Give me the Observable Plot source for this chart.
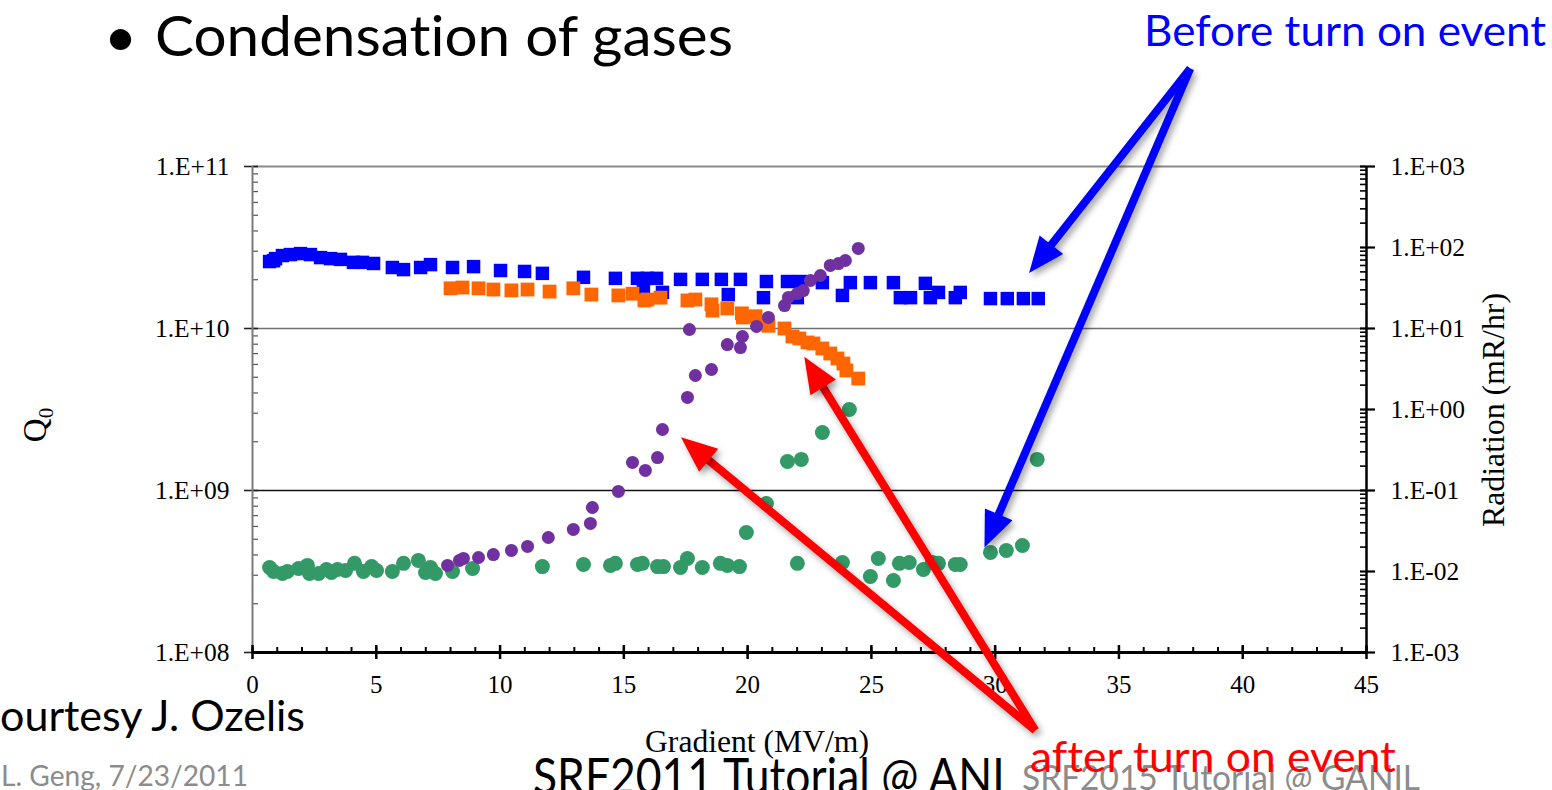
<!DOCTYPE html>
<html><head><meta charset="utf-8">
<script src="https://cdn.jsdelivr.net/npm/d3@7"></script>
<script src="https://cdn.jsdelivr.net/npm/@observablehq/plot@0.6"></script>
<style>
html,body{margin:0;padding:0;background:#fff;}
#page{position:relative;width:1552px;height:790px;overflow:hidden;background:#fff;}
#page svg{position:absolute;left:0;top:0;overflow:visible;}
#page text{font-variant-ligatures:none;font-feature-settings:"liga" 0,"clig" 0;}
g[aria-label="arrow"],g[aria-label="link"]{filter:drop-shadow(3px 4px 3px rgba(0,0,0,0.35));}
</style></head>
<body><div id="page"></div>
<script>
// ---------- data ----------
// Q0 before turn-on event (blue squares)
const beforeQ0Grad = [0.69,0.85,0.93,1.21,1.53,1.94,2.34,2.75,3.15,3.55,4.08,4.44,4.89,5.65,6.10,6.79,7.19,8.08,8.93,10.02,10.99,11.71,13.37,14.66,15.55,15.79,15.95,16.32,16.56,17.29,18.17,18.94,19.22,19.71,20.64,20.76,21.61,22.01,22.13,23.02,23.83,24.15,24.96,25.89,26.17,26.58,27.18,27.38,27.71,28.39,28.59,29.81,30.49,31.14,31.74];
const beforeQ0 = [2.59e10,2.62e10,2.70e10,2.82e10,2.86e10,2.90e10,2.86e10,2.74e10,2.70e10,2.67e10,2.56e10,2.56e10,2.52e10,2.38e10,2.31e10,2.38e10,2.48e10,2.38e10,2.41e10,2.28e10,2.25e10,2.19e10,2.07e10,2.04e10,2.04e10,1.77e10,2.04e10,2.04e10,1.67e10,2.01e10,2.01e10,2.01e10,1.62e10,2.01e10,1.55e10,1.95e10,1.95e10,1.55e10,1.95e10,1.92e10,1.60e10,1.92e10,1.92e10,1.92e10,1.55e10,1.55e10,1.90e10,1.55e10,1.67e10,1.55e10,1.67e10,1.53e10,1.53e10,1.53e10,1.53e10];
// Q0 after turn-on event (orange squares)
const afterQ0Grad = [8.00,8.48,9.13,9.73,10.46,11.11,12.00,12.96,13.69,14.78,15.35,15.83,15.95,16.48,17.57,17.89,18.54,18.58,19.18,19.77,19.81,20.32,20.84,21.49,21.81,22.09,22.42,22.66,23.02,23.34,23.63,23.87,23.99,24.47];
const afterQ0 = [1.77e10,1.79e10,1.77e10,1.74e10,1.72e10,1.74e10,1.69e10,1.77e10,1.62e10,1.60e10,1.64e10,1.49e10,1.51e10,1.55e10,1.49e10,1.51e10,1.41e10,1.29e10,1.33e10,1.24e10,1.17e10,1.19e10,1.04e10,1.00e10,8.93e9,8.68e9,8.20e9,8.08e9,7.53e9,7.01e9,6.53e9,6.08e9,5.51e9,4.91e9];
// Radiation before turn-on event (green circles)
const beforeRadGrad = [0.69,0.85,1.21,1.41,1.86,2.22,2.30,2.67,2.99,3.19,3.43,3.76,4.12,4.48,4.81,5.01,5.65,6.10,6.70,6.99,7.19,7.39,8.08,8.89,11.71,13.37,14.46,14.66,15.55,15.75,16.36,16.60,17.29,17.57,18.17,18.90,19.18,19.67,19.95,20.76,21.61,22.01,22.17,23.02,23.83,24.11,24.96,25.28,25.89,26.13,26.53,27.10,27.46,27.71,28.39,28.59,29.81,30.45,31.10,31.70];
const beforeRad = [0.0112,0.0100,0.00945,0.0100,0.0109,0.0119,0.00945,0.00945,0.0106,0.00973,0.0106,0.0103,0.0126,0.0100,0.0115,0.0103,0.0100,0.0126,0.0137,0.00973,0.0112,0.00945,0.0100,0.0109,0.0115,0.0122,0.0119,0.0126,0.0122,0.0126,0.0115,0.0115,0.0112,0.0145,0.0112,0.0126,0.0119,0.0115,0.0303,0.0691,0.228,0.0126,0.242,0.520,0.0129,1.00,0.00867,0.0145,0.00774,0.0126,0.0129,0.0106,0.0129,0.0126,0.0122,0.0122,0.0172,0.0182,0.0209,0.242];
// Radiation after turn-on event (purple circles)
const afterRadGrad = [7.88,8.36,8.52,9.13,9.73,10.46,11.11,11.95,12.96,13.65,13.73,14.78,15.35,15.87,16.36,16.56,17.57,17.65,17.89,18.54,19.18,19.71,19.79,20.36,20.84,21.49,21.65,22.01,22.25,22.54,22.94,23.34,23.67,23.95,24.47];
const afterRad = [0.0119,0.0137,0.0145,0.0149,0.0162,0.0182,0.0204,0.0263,0.0331,0.0392,0.0617,0.0973,0.222,0.177,0.255,0.566,1.41,9.72,2.63,3.12,6.34,5.82,7.96,10.6,13.7,19.2,24.2,27.0,29.4,39.2,45.1,60.0,63.4,69.1,97.3];

// axes
const xTicks = [0,5,10,15,20,25,30,35,40,45];
const xTickLabels = ["0","5","10","15","20","25","30","35","40","45"];
const xMinorTicks = d3.range(0, 46, 1);
const qTicks = [1e8,1e9,1e10,1e11];
const qTickLabels = ["1.E+08","1.E+09","1.E+10","1.E+11"];
const rTicks = [1e-3,1e-2,1e-1,1e0,1e1,1e2,1e3];
const rTickLabels = ["1.E-03","1.E-02","1.E-01","1.E+00","1.E+01","1.E+02","1.E+03"];
const minorOf = (decades) => decades.slice(0, -1).flatMap(d => d3.range(2, 10).map(k => d * k));
const qMinorTicks = minorOf(qTicks);
const rMinorTicks = minorOf(rTicks);

// annotation arrows (in gradient / radiation units); end = arrow tip
const arrowX1 = [37.88, 37.88, 31.62, 31.62];
const arrowY1 = [16200, 16200, 1.09e-4, 1.09e-4];
const arrowX2 = [31.42, 29.60, 17.37, 22.33];
const arrowY2 = [50.6, 0.0209, 0.438, 4.27];
const arrowColor = ["#0000ff", "#0000ff", "#ff0000", "#ff0000"];

// ---------- layout ----------
const W = 1552, H = 790;
const margins = {marginTop: 166, marginRight: 186, marginBottom: 138, marginLeft: 252};
const serif = "'Liberation Serif', 'Times New Roman', serif";
const xLabelMap = new Map(xTicks.map((d, i) => [d, xTickLabels[i]]));
const qLabelMap = new Map(qTicks.map((d, i) => [d, qTickLabels[i]]));
const rLabelMap = new Map(rTicks.map((d, i) => [d, rTickLabels[i]]));

const page = document.getElementById("page");

const plotQ = Plot.plot({
  width: W, height: H, ...margins,
  style: {background: "transparent", overflow: "visible", fontFamily: serif},
  x: {domain: [0, 45], label: null},
  y: {type: "log", domain: [1e8, 1e11], label: null},
  marks: [
    Plot.ruleY([1e11], {stroke: "#8a8a8a", strokeWidth: 2}),
    Plot.ruleY([1e10], {stroke: "#707070", strokeWidth: 1.6}),
    Plot.ruleY([1e9], {stroke: "#111", strokeWidth: 1.5}),
    Plot.axisY({ticks: qMinorTicks, tickSize: 6, dx: 6, fill: "none", stroke: "#555", strokeWidth: 1.2, label: null}),
    Plot.axisY({ticks: qTicks, tickSize: 14, dx: 6, fill: "none", stroke: "#222", strokeWidth: 1.6, label: null}),
    Plot.axisY({ticks: qTicks, tickSize: 0, tickPadding: 23, tickFormat: d => qLabelMap.get(d), fontSize: 25.5, fontFamily: serif, fill: "#000", label: null}),
    Plot.ruleX([0], {stroke: "#7a7a7a", strokeWidth: 2}),
    Plot.axisX({ticks: xMinorTicks, tickSize: 5, dy: -5, fill: "none", stroke: "#000", strokeWidth: 2, label: null}),
    Plot.axisX({ticks: xTicks, tickSize: 14, dy: -7, fill: "none", stroke: "#000", strokeWidth: 2.5, label: null}),
    Plot.axisX({ticks: xTicks, tickSize: 0, tickPadding: 23, tickFormat: d => xLabelMap.get(d), fontSize: 25, fontFamily: serif, fill: "#000", label: null}),
    Plot.ruleY([1e8], {stroke: "#000", strokeWidth: 3}),
    Plot.dot(beforeQ0, {x: beforeQ0Grad, y: d => d, symbol: "square", r: 7.6, fill: "#0000ff", stroke: "none"}),
    Plot.dot(afterQ0, {x: afterQ0Grad, y: d => d, symbol: "square", r: 7.8, fill: "#ff6600", stroke: "none"})
  ]
});

// filled triangular arrowhead marker, tip at the end of the link
function filledHead(color, context) {
  const ns = "http://www.w3.org/2000/svg";
  const doc = (context && context.document) || document;
  const m = doc.createElementNS(ns, "marker");
  m.setAttribute("viewBox", "-40 -20 44 40");
  m.setAttribute("markerUnits", "userSpaceOnUse");
  m.setAttribute("markerWidth", 44);
  m.setAttribute("markerHeight", 40);
  m.setAttribute("refX", 0);
  m.setAttribute("refY", 0);
  m.setAttribute("orient", "auto");
  m.setAttribute("overflow", "visible");
  const p = doc.createElementNS(ns, "path");
  p.setAttribute("d", "M2,0L-34,-15L-34,15Z");
  p.setAttribute("fill", color);
  p.setAttribute("stroke", "none");
  m.appendChild(p);
  return m;
}

function radiationPlot(arrowMarks) {
  return Plot.plot({
    width: W, height: H, ...margins,
    style: {background: "transparent", overflow: "visible", fontFamily: serif},
    x: {domain: [0, 45], axis: null, label: null},
    y: {type: "log", domain: [1e-3, 1e3], axis: null, label: null},
    marks: [
      Plot.ruleX([45], {stroke: "#000", strokeWidth: 2.5}),
      Plot.axisY({anchor: "right", ticks: rMinorTicks, tickSize: 7, dx: -7, fill: "none", stroke: "#000", strokeWidth: 1.6, label: null}),
      Plot.axisY({anchor: "right", ticks: rTicks, tickSize: 15, dx: -7, fill: "none", stroke: "#000", strokeWidth: 2.2, label: null}),
      Plot.axisY({anchor: "right", ticks: rTicks, tickSize: 0, tickPadding: 24, tickFormat: d => rLabelMap.get(d), fontSize: 25.5, fontFamily: serif, fill: "#000", label: null}),
      Plot.dot(beforeRad, {x: beforeRadGrad, y: d => d, r: 7.5, fill: "#339966", stroke: "none"}),
      Plot.dot(afterRad, {x: afterRadGrad, y: d => d, r: 6.5, fill: "#7030a0", stroke: "none"}),
      ...arrowMarks
    ]
  });
}

let plotR;
try {
  plotR = radiationPlot([
    Plot.arrow(arrowX1, {x1: arrowX1, y1: arrowY1, x2: arrowX2, y2: arrowY2, stroke: arrowColor, strokeWidth: 8, headLength: 0, insetEnd: 26, strokeLinecap: "butt"}),
    Plot.link(arrowX1, {x1: arrowX1, y1: arrowY1, x2: arrowX2, y2: arrowY2, stroke: arrowColor, strokeWidth: 8, strokeOpacity: 0, markerEnd: filledHead})
  ]);
} catch (e) {
  plotR = radiationPlot([
    Plot.arrow(arrowX1, {x1: arrowX1, y1: arrowY1, x2: arrowX2, y2: arrowY2, stroke: arrowColor, strokeWidth: 8, headLength: 6.5, headAngle: 55})
  ]);
}

page.appendChild(plotQ);
page.appendChild(plotR);

// ---------- slide text ----------
const ann = d3.select(page).append("svg").attr("width", W).attr("height", H).style("pointer-events", "none");
const sans = "Lato, 'Open Sans', sans-serif";
function addText(t) {
  const el = ann.append("text")
    .attr("x", t.x).attr("y", t.y)
    .attr("font-family", t.family || sans)
    .attr("font-size", t.size)
    .attr("fill", t.color || "#000")
    .attr("text-anchor", t.anchor || "start");
  if (t.len) el.attr("textLength", t.len).attr("lengthAdjust", "spacingAndGlyphs");
  if (t.transform) el.attr("transform", t.transform);
  el.text(t.text);
  return el;
}
addText({text: "•", x: 104, y: 56, size: 57});
addText({text: "Condensation of gases", x: 155, y: 56, size: 57, len: 578});
addText({text: "Before turn on event", x: 1144, y: 46, size: 42.5, len: 402, color: "#0000ff"});
addText({text: "ourtesy J. Ozelis", x: 0, y: 731, size: 42.3, len: 305});
addText({text: "L. Geng, 7/23/2011", x: 1, y: 786, size: 28.5, len: 247, color: "#8c8c8c"});
addText({text: "SRF2011 Tutorial @ ANL", x: 533, y: 794, size: 50, len: 482});
addText({text: "SRF2015 Tutorial @ GANIL", x: 1022, y: 790, size: 35, len: 398, color: "#8c8c8c"});
addText({text: "after turn on event", x: 1030, y: 772, size: 42.5, len: 366, color: "#ff0000"});
// axis titles
addText({text: "Gradient (MV/m)", x: 757, y: 752, size: 31, len: 224, family: serif, anchor: "middle"});
addText({text: "Radiation (mR/hr)", x: 0, y: 0, size: 31, len: 234, family: serif, anchor: "middle", transform: "translate(1504,410) rotate(-90)"});
const q = ann.append("text").attr("font-family", serif).attr("font-size", 33).attr("text-anchor", "middle")
  .attr("transform", "translate(46,425) rotate(-90)");
q.append("tspan").text("Q");
q.append("tspan").attr("font-size", 21).attr("dy", 7).text("0");
</script></body></html>
